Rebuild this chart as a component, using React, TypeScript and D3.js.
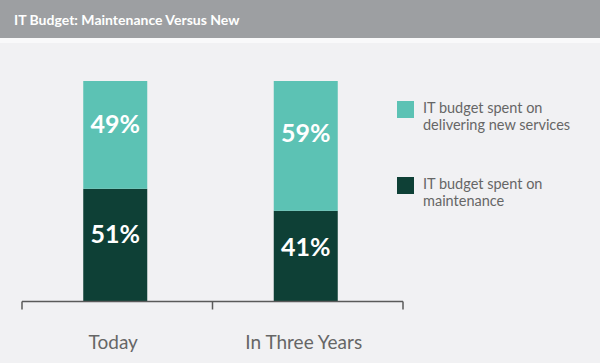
import * as d3 from 'd3'
import { useEffect, useRef } from 'react'

const categories = ['Today', 'In Three Years']
const maintenance = [51, 41]
const newServices = [49, 59]
const seriesNames = ['IT budget spent on delivering new services', 'IT budget spent on maintenance']
const legendLines = [
  ['IT budget spent on', 'delivering new services'],
  ['IT budget spent on', 'maintenance'],
]
const title = 'IT Budget: Maintenance Versus New'

const colors = { fresh: '#5cc2b4', maint: '#0e4036', header: '#9d9fa2', bg: '#f1f1f3', axis: '#5a5a5a', text: '#666' }

export default function App() {
  const svgRef = useRef(null)
  const width = 600
  const height = 363

  useEffect(() => {
    document.body.style.margin = '0'
    const svg = d3.select(svgRef.current)
    svg.selectAll('*').remove()
    const font = 'Lato, "Open Sans", sans-serif'

    svg.append('rect').attr('width', width).attr('height', height).attr('fill', colors.bg)
    svg.append('rect').attr('width', width).attr('height', 38).attr('fill', colors.header)
    svg.append('rect').attr('y', 38).attr('width', width).attr('height', 5).attr('fill', '#f9f9fa')
    svg.append('text')
      .attr('x', 14).attr('y', 25)
      .attr('fill', '#fff')
      .style('font-family', font)
      .style('font-weight', 'bold')
      .style('font-size', '14px')
      .text(title)

    // scales
    const x = d3.scaleBand().domain(categories).range([22, 403]).paddingInner(0).paddingOuter(0)
    const y = d3.scaleLinear().domain([0, 100]).range([301, 81])
    const barW = 64

    const data = categories.map((c, i) => ({ cat: c, maint: maintenance[i], fresh: newServices[i] }))
    const stack = d3.stack<any>().keys(['maint', 'fresh'])(data)
    const fills: any = { maint: colors.maint, fresh: colors.fresh }

    stack.forEach(layer => {
      const g = svg.append('g')
      g.selectAll('rect')
        .data(layer)
        .enter()
        .append('rect')
        .attr('x', d => x(d.data.cat)! + x.bandwidth() / 2 - barW / 2 - 2)
        .attr('y', d => y(d[1]))
        .attr('width', barW)
        .attr('height', d => y(d[0]) - y(d[1]))
        .attr('fill', fills[layer.key])

      // labels sit a little above the middle of each segment
      g.selectAll('text')
        .data(layer)
        .enter()
        .append('text')
        .attr('x', d => x(d.data.cat)! + x.bandwidth() / 2 - 2)
        .attr('y', d => y(d[1]) + (y(d[0]) - y(d[1])) * 0.4 + 9)
        .attr('text-anchor', 'middle')
        .attr('fill', '#fff')
        .style('font-family', font)
        .style('font-weight', 'bold')
        .style('font-size', '25px')
        .text(d => `${d[1] - d[0]}%`)
    })

    // axis
    const axis = svg.append('g').attr('transform', 'translate(0,301.5)')
    axis.append('line')
      .attr('x1', 22).attr('x2', 403)
      .attr('stroke', colors.axis).attr('stroke-width', 1.5)
    const ticks = [...categories.map(c => x(c)!), x.range()[1]]
    axis.selectAll('.tick')
      .data(ticks)
      .enter()
      .append('line')
      .attr('x1', d => d).attr('x2', d => d)
      .attr('y1', 0).attr('y2', 8)
      .attr('stroke', colors.axis).attr('stroke-width', 1.5)
    axis.selectAll('.lbl')
      .data(categories)
      .enter()
      .append('text')
      .attr('x', d => x(d)! + x.bandwidth() / 2 - 4)
      .attr('y', 47)
      .attr('text-anchor', 'middle')
      .attr('fill', colors.text)
      .style('font-family', font)
      .style('font-size', '19px')
      .text(d => d)

    // legend
    const legendY = [101, 177]
    const legendColors = [colors.fresh, colors.maint]
    seriesNames.forEach((name, i) => {
      const g = svg.append('g').attr('transform', `translate(397,${legendY[i]})`)
      g.append('rect').attr('width', 17).attr('height', 17).attr('fill', legendColors[i])
      const t = g.append('text')
        .attr('fill', colors.text)
        .style('font-family', font)
        .style('font-size', '14.5px')
      legendLines[i].forEach((line, j) => {
        t.append('tspan').attr('x', 26).attr('y', 12 + j * 17).text(line)
      })
    })
  }, [])

  return (
    <svg ref={svgRef} width={width} height={height} style={{ display: 'block' }}></svg>
  )
}
